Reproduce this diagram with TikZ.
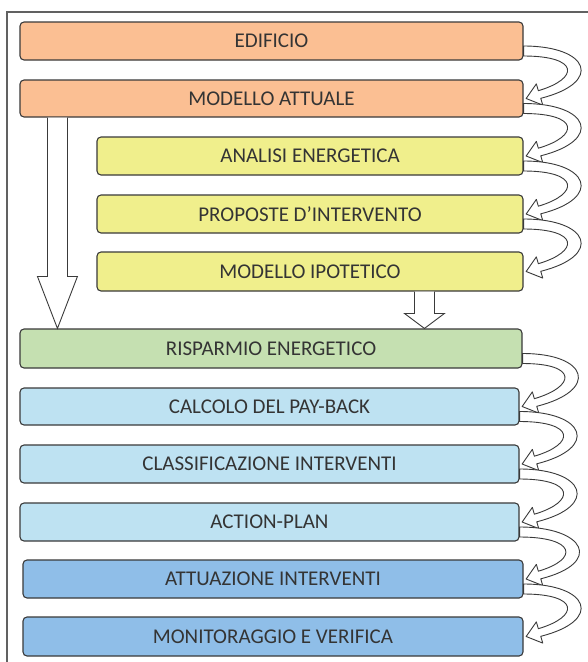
\documentclass[tikz,border=0pt]{standalone}
\usepackage{fontspec}
\setmainfont{Carlito}
\usetikzlibrary{calc}
\definecolor{cOrange}{HTML}{FBBF93}
\definecolor{cYellow}{HTML}{F0EF8C}
\definecolor{cGreen}{HTML}{C5E0B1}
\definecolor{cLblue}{HTML}{BEE2F2}
\definecolor{cBlue}{HTML}{8FBEE8}
\definecolor{cLine}{HTML}{3A3A3A}
\tikzset{
  box/.style={draw=cLine, line width=1.1pt, rounded corners=4pt, inner sep=0pt,
    font=\fontsize{21}{23}\selectfont, text=cLine!90!black, minimum height=38pt},
  band/.style={draw=cLine, line width=0.9pt, fill=white, line join=round},
  blockarrow/.style={draw=cLine, line width=0.9pt, fill=white, line join=miter}
}
\newcommand\curvarrow[2]{%
  \path[band] ($(#1.east)+(0,5)$)
     .. controls ($(#1.east)+(66,5)$) and ($(#2.east)+(80,-16)$) .. ($(#2.east)+(17.2,-0.2)$)
     -- ($(#2.east)+(19.2,6.6)$)
     -- ($(#2.east)+(2.6,0)$)
     -- ($(#2.east)+(12.8,-14.6)$)
     -- ($(#2.east)+(14.8,-7.8)$)
     .. controls ($(#2.east)+(56,-20)$) and ($(#1.east)+(56,15)$) .. ($(#1.east)+(0,15)$)
     -- cycle;}
\begin{document}
\begin{tikzpicture}[x=1pt,y=-1pt]
\useasboundingbox (0,0) rectangle (588,662);
\fill[white] (0,0) rectangle (588,662);
% frame
\draw[draw=cLine!80, line width=1.3pt] (7,662) -- (7,12) -- (588,12);
% boxes
\node[box, fill=cOrange, minimum width=503pt] (b1) at (271.5,41) {EDIFICIO};
\node[box, fill=cOrange, minimum width=503pt, minimum height=37pt] (b2) at (271.5,98.5) {MODELLO ATTUALE};
\node[box, fill=cYellow, minimum width=426pt] (b3) at (310,156) {ANALISI ENERGETICA};
\node[box, fill=cYellow, minimum width=426pt] (b4) at (310,214) {PROPOSTE D’INTERVENTO};
\node[box, fill=cYellow, minimum width=426pt, minimum height=39pt] (b5) at (310,271.5) {MODELLO IPOTETICO};
\node[box, fill=cGreen, minimum width=502pt, minimum height=39pt] (b6) at (271,348.5) {RISPARMIO ENERGETICO};
\node[box, fill=cLblue, minimum width=499pt, minimum height=37pt] (b7) at (269.5,406.5) {CALCOLO DEL PAY-BACK};
\node[box, fill=cLblue, minimum width=499pt] (b8) at (269.5,464) {CLASSIFICAZIONE INTERVENTI};
\node[box, fill=cLblue, minimum width=499pt] (b9) at (269.5,522) {ACTION-PLAN};
\node[box, fill=cBlue, minimum width=500pt] (b10) at (273,579) {ATTUAZIONE INTERVENTI};
\node[box, fill=cBlue, minimum width=500pt, minimum height=39pt] (b11) at (273,636.5) {MONITORAGGIO E VERIFICA};
% curved arrows
\curvarrow{b1}{b2}
\curvarrow{b2}{b3}
\curvarrow{b3}{b4}
\curvarrow{b4}{b5}
\curvarrow{b6}{b7}
\curvarrow{b7}{b8}
\curvarrow{b8}{b9}
\curvarrow{b9}{b10}
\curvarrow{b10}{b11}
% big left block arrow
\path (b2.south west) ++(38,0) coordinate (ls);
\path (b6.north west) ++(38,0) coordinate (le);
\path[blockarrow] ($(ls)+(-10,0)$) -- ($(le)+(-10,-52)$) -- ($(le)+(-20,-52)$) -- (le)
  -- ($(le)+(20,-52)$) -- ($(le)+(10,-52)$) -- ($(ls)+(10,0)$);
% small block arrow
\path (b5.south west) ++(328,0) coordinate (ss);
\path (b6.north west) ++(405,0) coordinate (se);
\path[blockarrow] ($(ss)+(-10,0)$) -- ($(se)+(-10,-15)$) -- ($(se)+(-20,-15)$) -- (se)
  -- ($(se)+(20,-15)$) -- ($(se)+(10,-15)$) -- ($(ss)+(10,0)$);
\end{tikzpicture}
\end{document}
